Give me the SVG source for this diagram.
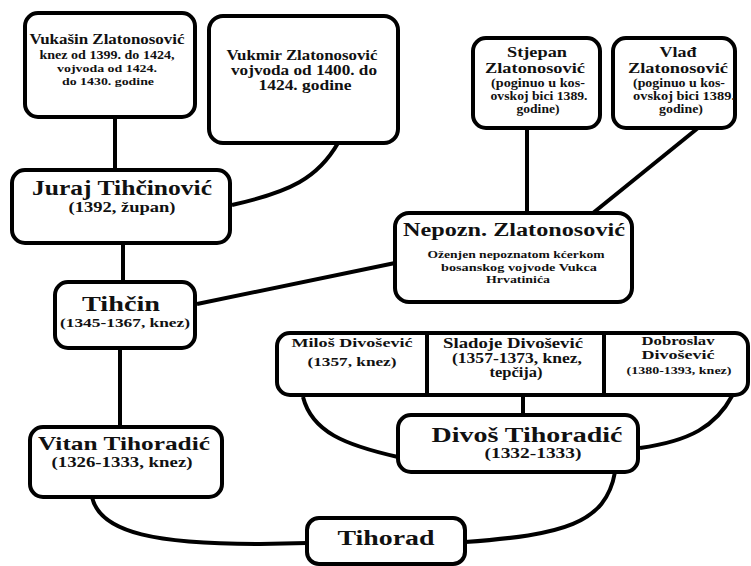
<svg xmlns="http://www.w3.org/2000/svg" width="751" height="566" viewBox="0 0 751 566">
<style>
.box{fill:#fff;stroke:#000;stroke-width:4}
.ln{fill:none;stroke:#000;stroke-width:4}
text{font-family:"Liberation Serif","Times New Roman",serif;font-weight:bold;fill:#111;text-anchor:middle}
</style>
<rect width="751" height="566" fill="#fff"/>
<g id="connectors">
<path class="ln" d="M115,117 V170"/>
<path class="ln" d="M338,143 C318,178 290,192 232,205"/>
<path class="ln" d="M123,243 V282"/>
<path class="ln" d="M197,304 L395,263"/>
<path class="ln" d="M120,348 V427"/>
<path class="ln" d="M527,128 V213"/>
<path class="ln" d="M698,128 L593,213"/>
<path class="ln" d="M523,395 V415"/>
<path class="ln" d="M303,397 C312,432 345,445 398,457"/>
<path class="ln" d="M732,396 C716,426 690,441 640,448"/>
<path class="ln" d="M92,497 C100,534 160,544 260,544 L307,543"/>
<path class="ln" d="M615,472 C606,524 562,535 465,542"/>
</g>
<g id="vukasin">
<rect class="box" x="25" y="13" width="170" height="104" rx="13"/>
<text x="107" y="44" font-size="14" textLength="155" lengthAdjust="spacingAndGlyphs">Vukašin Zlatonosović</text>
<text x="107" y="59" font-size="11.5" textLength="135" lengthAdjust="spacingAndGlyphs">knez od 1399. do 1424,</text>
<text x="107" y="72" font-size="11" textLength="100" lengthAdjust="spacingAndGlyphs">vojvoda od 1424.</text>
<text x="108" y="85" font-size="11" textLength="92" lengthAdjust="spacingAndGlyphs">do 1430. godine</text>
</g>
<g id="vukmir">
<rect class="box" x="209" y="16" width="189" height="127" rx="14"/>
<text x="302" y="60" font-size="14" textLength="151" lengthAdjust="spacingAndGlyphs">Vukmir Zlatonosović</text>
<text x="304" y="75" font-size="14" textLength="146" lengthAdjust="spacingAndGlyphs">vojvoda od 1400. do</text>
<text x="305" y="90" font-size="14" textLength="93" lengthAdjust="spacingAndGlyphs">1424. godine</text>
</g>
<g id="stjepan">
<rect class="box" x="473" y="38" width="127" height="90" rx="13"/>
<text x="537" y="57" font-size="15" textLength="60" lengthAdjust="spacingAndGlyphs">Stjepan</text>
<text x="535" y="73" font-size="15" textLength="100" lengthAdjust="spacingAndGlyphs">Zlatonosović</text>
<text x="538" y="87" font-size="12" textLength="94" lengthAdjust="spacingAndGlyphs">(poginuo u kos-</text>
<text x="539" y="100" font-size="12" textLength="97" lengthAdjust="spacingAndGlyphs">ovskoj bici 1389.</text>
<text x="538" y="113" font-size="12" textLength="43" lengthAdjust="spacingAndGlyphs">godine)</text>
</g>
<g id="vlad">
<rect class="box" x="613" y="38" width="122" height="90" rx="13"/>
<text x="678" y="57" font-size="15" textLength="37" lengthAdjust="spacingAndGlyphs">Vlađ</text>
<text x="678" y="73" font-size="15" textLength="100" lengthAdjust="spacingAndGlyphs">Zlatonosović</text>
<text x="679" y="87" font-size="12" textLength="92" lengthAdjust="spacingAndGlyphs">(poginuo u kos-</text>
<text x="684" y="100" font-size="12" textLength="102" lengthAdjust="spacingAndGlyphs">ovskoj bici 1389.</text>
<text x="681" y="113" font-size="12" textLength="44" lengthAdjust="spacingAndGlyphs">godine)</text>
</g>
<g id="juraj">
<rect class="box" x="12" y="170" width="218" height="73" rx="13"/>
<text x="122" y="195" font-size="20" textLength="180" lengthAdjust="spacingAndGlyphs">Juraj Tihčinović</text>
<text x="122" y="212" font-size="14" textLength="107" lengthAdjust="spacingAndGlyphs">(1392, župan)</text>
</g>
<g id="nepozn">
<rect class="box" x="395" y="213" width="237" height="89" rx="14"/>
<text x="514" y="236" font-size="18" textLength="222" lengthAdjust="spacingAndGlyphs">Nepozn. Zlatonosović</text>
<text x="516" y="258" font-size="11" textLength="177" lengthAdjust="spacingAndGlyphs">Oženjen nepoznatom kćerkom</text>
<text x="519" y="271" font-size="11" textLength="156" lengthAdjust="spacingAndGlyphs">bosanskog vojvode Vukca</text>
<text x="518" y="283" font-size="11" textLength="64" lengthAdjust="spacingAndGlyphs">Hrvatinića</text>
</g>
<g id="tihcin">
<rect class="box" x="55" y="282" width="140" height="66" rx="13"/>
<text x="121" y="311" font-size="22" textLength="78" lengthAdjust="spacingAndGlyphs">Tihčin</text>
<text x="125" y="327" font-size="13" textLength="130" lengthAdjust="spacingAndGlyphs">(1345-1367, knez)</text>
</g>
<g id="divosevici">
<rect class="box" x="277" y="333" width="471" height="62" rx="13"/>
<path class="ln" d="M427,333 V395 M604,333 V395"/>
</g>
<g id="milos">
<text x="352" y="347" font-size="13" textLength="121" lengthAdjust="spacingAndGlyphs">Miloš Divošević</text>
<text x="352" y="366" font-size="13" textLength="89" lengthAdjust="spacingAndGlyphs">(1357, knez)</text>
</g>
<g id="sladoje">
<text x="513" y="348" font-size="14" textLength="140" lengthAdjust="spacingAndGlyphs">Sladoje Divošević</text>
<text x="517" y="363" font-size="14" textLength="130" lengthAdjust="spacingAndGlyphs">(1357-1373, knez,</text>
<text x="516" y="377" font-size="14" textLength="53" lengthAdjust="spacingAndGlyphs">tepčija)</text>
</g>
<g id="dobroslav">
<text x="678" y="345" font-size="12" textLength="73" lengthAdjust="spacingAndGlyphs">Dobroslav</text>
<text x="678" y="359" font-size="12" textLength="73" lengthAdjust="spacingAndGlyphs">Divošević</text>
<text x="679" y="374" font-size="11" textLength="105" lengthAdjust="spacingAndGlyphs">(1380-1393, knez)</text>
</g>
<g id="vitan">
<rect class="box" x="30" y="427" width="192" height="70" rx="13"/>
<text x="124" y="450" font-size="19" textLength="172" lengthAdjust="spacingAndGlyphs">Vitan Tihoradić</text>
<text x="122" y="467" font-size="14" textLength="141" lengthAdjust="spacingAndGlyphs">(1326-1333, knez)</text>
</g>
<g id="divos">
<rect class="box" x="398" y="415" width="240" height="57" rx="13"/>
<text x="527" y="442" font-size="20" textLength="191" lengthAdjust="spacingAndGlyphs">Divoš Tihoradić</text>
<text x="533" y="458" font-size="14" textLength="97" lengthAdjust="spacingAndGlyphs">(1332-1333)</text>
</g>
<g id="tihorad">
<rect class="box" x="307" y="518" width="158" height="46" rx="12"/>
<text x="386" y="545" font-size="20" textLength="97" lengthAdjust="spacingAndGlyphs">Tihorad</text>
</g>
</svg>
